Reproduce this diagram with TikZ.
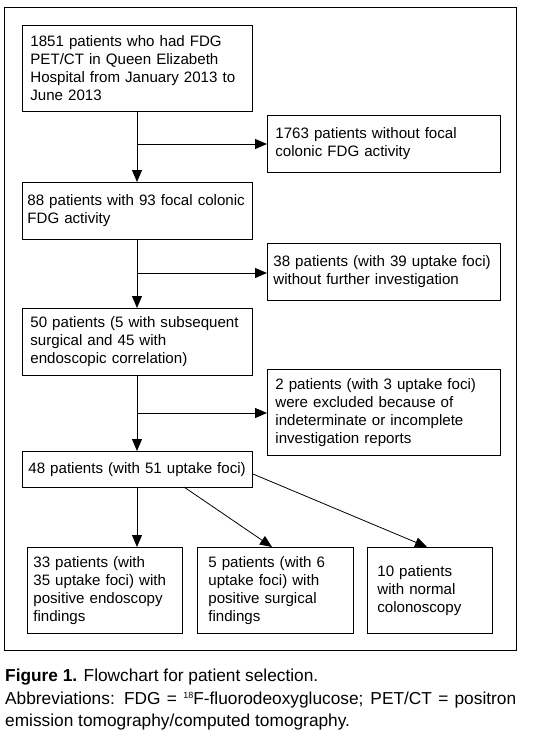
\documentclass[tikz,border=0pt]{standalone}
\usepackage{fontspec}
\setmainfont{Liberation Sans}
\usetikzlibrary{arrows.meta,calc}
\begin{document}
\begin{tikzpicture}[x=1pt,y=-1pt,
  box/.style={draw, line width=0.8pt, rectangle, anchor=north west, align=left,
    font=\fontsize{15.1}{18}\selectfont, inner ysep=0pt},
  arr/.style={line width=0.8pt, -{Triangle[length=12pt,width=10pt]}},
  ln/.style={line width=0.8pt}]
\useasboundingbox (0,0) rectangle (541,740);
\fill[white] (0,0) rectangle (541,740);
\draw[line width=0.8pt] (4,7) rectangle (516,650);
% boxes
\node[box, minimum width=230, minimum height=86, text width=214, inner xsep=8] (b1) at (22,25)
  {1851 patients who had FDG\\PET/CT in Queen Elizabeth\\Hospital from January 2013 to\\June 2013};
\node[box, minimum width=233, minimum height=57, text width=217, inner xsep=8] (b2) at (267,115)
  {1763 patients without focal\\colonic FDG activity};
\node[box, minimum width=230, minimum height=57, text width=220, inner xsep=5] (b3) at (22,182)
  {88 patients with 93 focal colonic\\FDG activity};
\node[box, minimum width=233, minimum height=57, text width=221, inner xsep=6] (b4) at (267,243)
  {38 patients (with 39 uptake foci)\\without further investigation};
\node[box, minimum width=230, minimum height=67, text width=214, inner xsep=8] (b5) at (22,308)
  {50 patients (5 with subsequent\\surgical and 45 with\\endoscopic correlation)};
\node[box, minimum width=233, minimum height=86, text width=217, inner xsep=8] (b6) at (267,369)
  {2 patients (with 3 uptake foci)\\were excluded because of\\indeterminate or incomplete\\investigation reports};
\node[box, minimum width=230, minimum height=36, text width=218, inner xsep=6] (b7) at (22,451)
  {48 patients (with 51 uptake foci)};
\node[box, minimum width=155, minimum height=86, text width=143, inner xsep=6] (b8) at (27,547)
  {33 patients (with\\35 uptake foci) with\\positive endoscopy\\findings};
\node[box, minimum width=156, minimum height=86, text width=134, inner xsep=11] (b9) at (197,547)
  {5 patients (with 6\\uptake foci) with\\positive surgical\\findings};
\node[box, minimum width=125, minimum height=86, text width=105, inner xsep=10] (b10) at (367,547)
  {10 patients\\with normal\\colonoscopy};
% connectors
\coordinate (t1) at (137,111);
\coordinate (j1) at (137,144);
\coordinate (t3) at (137,182);
\coordinate (s3) at (137,239);
\coordinate (j2) at (137,273);
\coordinate (t5) at (137,308);
\coordinate (s5) at (137,375);
\coordinate (j3) at (137,413);
\coordinate (t7) at (137,451);
\coordinate (s7) at (137,487);
\coordinate (t8) at (137,547);
\coordinate (d2s) at (184,487);
\coordinate (d2e) at (272,547);
\coordinate (d3s) at (253,474);
\coordinate (d3e) at (427,547);
\draw[arr] (t1) -- (t3);
\draw[arr] (j1) -- (j1 -| b2.west);
\draw[arr] (s3) -- (t5);
\draw[arr] (j2) -- (j2 -| b4.west);
\draw[arr] (s5) -- (t7);
\draw[arr] (j3) -- (j3 -| b6.west);
\draw[arr] (s7) -- (t8);
\draw[arr] (d2s) -- (d2e);
\draw[arr] (d3s) -- (d3e);
% caption
\node[anchor=north west, inner sep=0pt, text width=511, align=justify,
  font=\fontsize{17.3}{22.5}\selectfont] (cap) at (5,669)
  {\textbf{Figure 1.} Flowchart for patient selection.\\
   Abbreviations: FDG = {\fontsize{9}{9}\selectfont\raisebox{5.5pt}{18}}F-fluorodeoxyglucose; PET/CT = positron\linebreak
   emission tomography/computed tomography.};
\end{tikzpicture}
\end{document}
